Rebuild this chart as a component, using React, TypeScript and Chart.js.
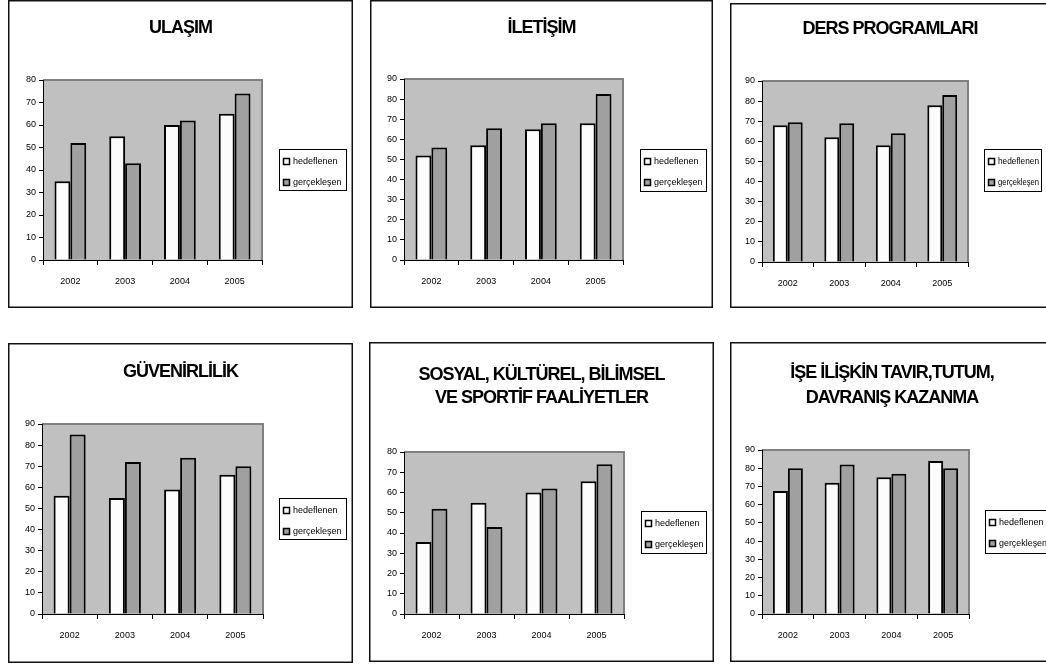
import React, { useEffect, useRef } from "react";
import { Chart, registerables } from "chart.js";

Chart.register(...registerables);

const years = ["2002", "2003", "2004", "2005"];
const seriesNames = ["hedeflenen", "gerçekleşen"];

const ulasimHedef = [35, 55, 60, 65];
const ulasimGercek = [52, 43, 62, 74];
const iletisimHedef = [52, 57, 65, 68];
const iletisimGercek = [56, 65.5, 68, 82.5];
const dersHedef = [68, 62, 58, 78];
const dersGercek = [69.5, 69, 64, 83];
const guvenHedef = [56, 55, 59, 66];
const guvenGercek = [85, 72, 74, 70];
const sosyalHedef = [35.5, 55, 60, 65.5];
const sosyalGercek = [52, 43, 62, 74];
const iseHedef = [67.5, 72, 75, 84];
const iseGercek = [80, 82, 77, 80];

const titleUlasim = ["ULAŞIM"];
const titleIletisim = ["İLETİŞİM"];
const titleDers = ["DERS PROGRAMLARI"];
const titleGuven = ["GÜVENİRLİLİK"];
const titleSosyal = ["SOSYAL, KÜLTÜREL, BİLİMSEL", "VE SPORTİF FAALİYETLER"];
const titleIse = ["İŞE İLİŞKİN TAVIR,TUTUM,", "DAVRANIŞ KAZANMA"];

const FONT = '"Liberation Sans", Arial, Helvetica, sans-serif';
const COLORS = ["#FCFCFC", "#A0A0A0"];

type PanelCfg = {
  title: string[];
  titleBase: number[];
  hedef: number[];
  gercek: number[];
  max: number;
  box: { x: number; y: number; w: number; h: number };
  plot: { l: number; t: number; r: number; b: number };
  legend: { x: number; y: number; w: number; h: number; textW: number };
};

const panels: PanelCfg[] = [
  {
    title: titleUlasim, titleBase: [33], hedef: ulasimHedef, gercek: ulasimGercek, max: 80,
    box: { x: 8, y: 0, w: 345, h: 308 }, plot: { l: 43, t: 80, r: 262, b: 260 },
    legend: { x: 279, y: 149, w: 67, h: 41, textW: 52 },
  },
  {
    title: titleIletisim, titleBase: [33], hedef: iletisimHedef, gercek: iletisimGercek, max: 90,
    box: { x: 370, y: 0, w: 343, h: 308 }, plot: { l: 404, t: 79, r: 623, b: 260 },
    legend: { x: 640, y: 149, w: 66, h: 42, textW: 51 },
  },
  {
    title: titleDers, titleBase: [31], hedef: dersHedef, gercek: dersGercek, max: 90,
    box: { x: 730, y: 3, w: 320, h: 305 }, plot: { l: 762, t: 81, r: 968, b: 262 },
    legend: { x: 984, y: 149, w: 57, h: 42, textW: 41 },
  },
  {
    title: titleGuven, titleBase: [34], hedef: guvenHedef, gercek: guvenGercek, max: 90,
    box: { x: 8, y: 343, w: 345, h: 320 }, plot: { l: 42, t: 424, r: 263, b: 614 },
    legend: { x: 279, y: 498, w: 67, h: 41, textW: 52 },
  },
  {
    title: titleSosyal, titleBase: [38, 61], hedef: sosyalHedef, gercek: sosyalGercek, max: 80,
    box: { x: 369, y: 342, w: 345, h: 320 }, plot: { l: 404, t: 452, r: 624, b: 614 },
    legend: { x: 641, y: 511, w: 65, h: 42, textW: 50 },
  },
  {
    title: titleIse, titleBase: [36, 61], hedef: iseHedef, gercek: iseGercek, max: 90,
    box: { x: 730, y: 342, w: 324, h: 320 }, plot: { l: 762, t: 450, r: 969, b: 614 },
    legend: { x: 985, y: 510, w: 70, h: 43, textW: 48 },
  },
];

const Y_W = 30;
const X_H = 30;

function Panel({ cfg }: { cfg: PanelCfg }) {
  const ref = useRef<HTMLCanvasElement | null>(null);
  useEffect(() => {
    const canvas = ref.current;
    if (!canvas) return;
    const { box, plot, legend } = cfg;
    const padding = {
      left: plot.l - box.x - Y_W,
      top: plot.t - box.y,
      right: box.x + box.w - plot.r,
      bottom: box.y + box.h - plot.b - X_H,
    };
    const panelPlugin = {
      id: "panelDeco",
      beforeDraw(chart: any) {
        const ctx = chart.ctx;
        const a = chart.chartArea;
        ctx.save();
        ctx.fillStyle = "#FFFFFF";
        ctx.fillRect(0, 0, chart.width, chart.height);
        ctx.fillStyle = "#C0C0C0";
        ctx.fillRect(a.left, a.top, a.right - a.left, a.bottom - a.top);
        ctx.strokeStyle = "#808080";
        ctx.lineWidth = 2;
        ctx.beginPath();
        ctx.moveTo(a.left, a.top);
        ctx.lineTo(a.right, a.top);
        ctx.lineTo(a.right, a.bottom);
        ctx.stroke();
        ctx.restore();
      },
      afterDraw(chart: any) {
        const ctx = chart.ctx;
        ctx.save();
        // panel border
        ctx.strokeStyle = "#111";
        ctx.lineWidth = 1.5;
        ctx.strokeRect(0.75, 0.75, chart.width - 1.5, chart.height - 1.5);
        // title
        ctx.fillStyle = "#000";
        ctx.font = `bold 18px ${FONT}`;
        try { (ctx as any).letterSpacing = "-1px"; } catch (e) {}
        ctx.textAlign = "center";
        ctx.textBaseline = "alphabetic";
        cfg.title.forEach((line, i) => {
          ctx.fillText(line, chart.width / 2, cfg.titleBase[i]);
        });
        try { (ctx as any).letterSpacing = "0px"; } catch (e) {}
        // legend
        const lx = legend.x - box.x;
        const ly = legend.y - box.y;
        ctx.fillStyle = "#FFFFFF";
        ctx.fillRect(lx, ly, legend.w, legend.h);
        ctx.strokeStyle = "#000";
        ctx.lineWidth = 1;
        ctx.strokeRect(lx + 0.5, ly + 0.5, legend.w, legend.h);
        ctx.font = `9px ${FONT}`;
        ctx.textAlign = "left";
        ctx.textBaseline = "middle";
        chart.data.datasets.forEach((ds: any, i: number) => {
          const my = ly + 9.5 + i * 21;
          ctx.fillStyle = ds.backgroundColor;
          ctx.fillRect(lx + 4.5, my, 6, 6);
          ctx.lineWidth = 1.5;
          ctx.strokeStyle = "#000";
          ctx.strokeRect(lx + 4.5, my, 6, 6);
          ctx.fillStyle = "#000";
          const w = ctx.measureText(ds.label).width;
          const sx = w > legend.textW ? legend.textW / w : 1;
          ctx.save();
          ctx.translate(lx + 14, my + 3.5);
          ctx.scale(sx, 1);
          ctx.fillText(ds.label, 0, 0);
          ctx.restore();
        });
        ctx.restore();
      },
    };
    const tickFont = { family: FONT, size: 9 };
    const chart = new Chart(canvas, {
      type: "bar",
      data: {
        labels: years,
        datasets: [
          {
            label: seriesNames[0], data: cfg.hedef, backgroundColor: COLORS[0],
            borderColor: "#000", borderWidth: 2, categoryPercentage: 0.58, barPercentage: 1,
          },
          {
            label: seriesNames[1], data: cfg.gercek, backgroundColor: COLORS[1],
            borderColor: "#000", borderWidth: 2, categoryPercentage: 0.58, barPercentage: 1,
          },
        ],
      },
      options: {
        responsive: false,
        animation: false,
        devicePixelRatio: 1,
        layout: { padding },
        plugins: {
          legend: { display: false },
          title: { display: false },
          tooltip: { enabled: false },
        },
        scales: {
          x: {
            grid: { offset: true, drawOnChartArea: false, drawTicks: true, tickLength: 5, color: "#000", lineWidth: 1 },
            border: { display: true, color: "#000", width: 1 },
            ticks: { font: tickFont, color: "#000", padding: 11, maxRotation: 0 },
            afterFit: (s: any) => { s.height = X_H; },
          },
          y: {
            min: 0,
            max: cfg.max,
            ticks: { stepSize: 10, font: tickFont, color: "#000", padding: 3 },
            grid: { drawOnChartArea: false, drawTicks: true, tickLength: 4, color: "#000", lineWidth: 1 },
            border: { display: true, color: "#000", width: 1 },
            afterFit: (s: any) => { s.width = Y_W; },
          },
        },
      } as any,
      plugins: [panelPlugin],
    });
    return () => chart.destroy();
  }, [cfg]);
  return (
    <canvas
      ref={ref}
      width={cfg.box.w}
      height={cfg.box.h}
      style={{ position: "absolute", left: cfg.box.x, top: cfg.box.y, width: cfg.box.w, height: cfg.box.h }}
    />
  );
}

export default function App() {
  return (
    <div
      style={{
        position: "absolute", left: 0, top: 0, width: 1046, height: 665,
        overflow: "hidden", background: "#FFFFFF",
      }}
    >
      {panels.map((p, i) => (
        <Panel key={i} cfg={p} />
      ))}
    </div>
  );
}
